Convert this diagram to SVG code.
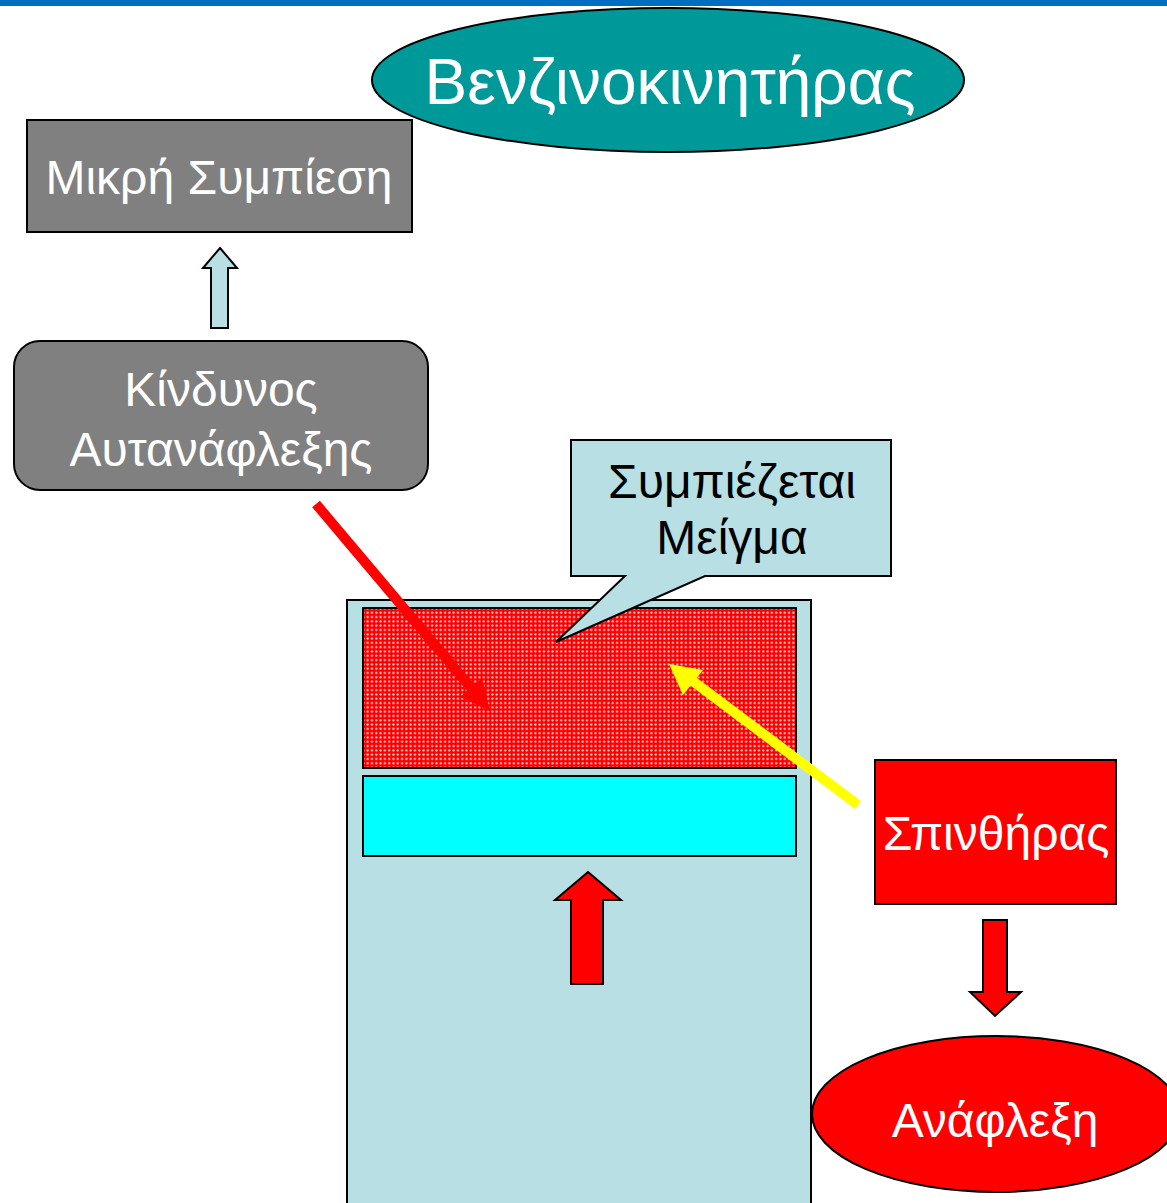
<svg xmlns="http://www.w3.org/2000/svg" width="1167" height="1203" viewBox="0 0 1167 1203">
  <style>
    .lbl { font-family: "Liberation Sans", Arial, sans-serif; fill: #ffffff; text-anchor: middle; font-size: 48px; }
    .big { font-size: 64px; }
    .dark { fill: #000000; }
    .edge { stroke: #000000; stroke-width: 2; }
  </style>
  <defs>
    <pattern id="dots" width="4.3" height="4.3" patternUnits="userSpaceOnUse">
      <rect width="4.3" height="4.3" fill="#ff0000"/>
      <circle cx="2.15" cy="2.15" r="1.1" fill="#ffe0e0"/>
    </pattern>
  </defs>
  <rect width="1167" height="1203" fill="#ffffff"/>
  <rect x="0" y="0" width="1167" height="6" fill="#006ebf"/>

  <g id="title">
    <ellipse cx="668" cy="80" rx="296" ry="72" fill="#009999" class="edge"/>
    <text x="670" y="104" class="lbl big">Βενζινοκινητήρας</text>
  </g>

  <g id="low-compression">
    <rect x="27" y="120" width="385" height="112" fill="#808080" class="edge"/>
    <text x="219" y="194" class="lbl">Μικρή Συμπίεση</text>
  </g>

  <g id="knock-risk">
    <rect x="14" y="341" width="414" height="149" rx="26" ry="26" fill="#808080" class="edge"/>
    <text x="221" y="406" class="lbl">Κίνδυνος</text>
    <text x="221" y="466" class="lbl">Αυτανάφλεξης</text>
  </g>

  <g id="cylinder">
    <rect x="347" y="600" width="464" height="620" fill="#b8dfe3" class="edge"/>
    <rect x="363" y="608" width="433" height="160" fill="url(#dots)" class="edge"/>
    <rect x="363" y="776" width="433" height="80" fill="#00ffff" class="edge"/>
  </g>

  <g id="mixture-callout">
    <path d="M571,440 H891 V576 H705 L556,642 L625,576 H571 Z" fill="#b8dfe3" class="edge"/>
    <text x="732" y="498" class="lbl dark">Συμπιέζεται</text>
    <text x="732" y="554" class="lbl dark">Μείγμα</text>
  </g>

  <g id="spark-plug">
    <rect x="875" y="760" width="241" height="144" fill="#ff0000" class="edge"/>
    <text x="996" y="850" class="lbl">Σπινθήρας</text>
  </g>

  <g id="ignition">
    <ellipse cx="996" cy="1114" rx="184" ry="78" fill="#ff0000" class="edge"/>
    <text x="995" y="1137" class="lbl">Ανάφλεξη</text>
  </g>

  <g id="connectors">
    <!-- block arrow: knock risk up to low compression -->
    <path d="M220,248 L237,268 H228 V328 H211 V268 H203 Z" fill="#b8dfe3" class="edge"/>
    <!-- block arrow: piston moving up -->
    <path d="M588,872 L621,900 H603 V984 H571 V900 H555 Z" fill="#ff0000" class="edge"/>
    <!-- block arrow: spark plug down to ignition -->
    <path d="M983,920 H1007 V992 H1021 L995,1016 L970,992 H983 Z" fill="#ff0000" class="edge"/>
    <!-- red diagonal arrow into compressed mixture -->
    <line x1="316" y1="504" x2="472" y2="689" stroke="#ff0000" stroke-width="10"/>
    <polygon points="490,711 460,697 482,678" fill="#ff0000"/>
    <!-- yellow arrow from spark plug into mixture -->
    <line x1="858" y1="805" x2="690" y2="679" stroke="#ffff00" stroke-width="10"/>
    <polygon points="669,664 703,670 683,695" fill="#ffff00"/>
  </g>
</svg>
